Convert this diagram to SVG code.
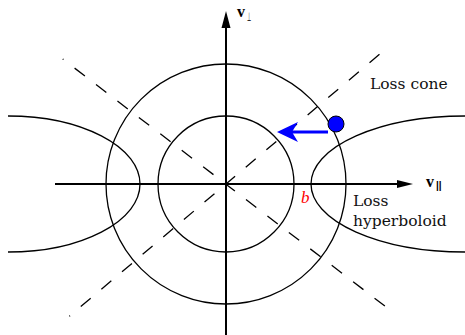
<svg xmlns="http://www.w3.org/2000/svg" width="465" height="335" viewBox="0 0 465 335">
<style>
.c{fill:none;stroke:#000;stroke-width:1.3}
.d{fill:none;stroke:#000;stroke-width:1.3;stroke-dasharray:13 14;stroke-dashoffset:12}
.ax{stroke:#000;stroke-width:2}
.t{font-family:"DejaVu Serif",serif;font-size:15.5px;fill:#111}
</style>
<rect width="465" height="335" fill="#fff"/>
<g id="connectors">
<line class="d" x1="62.7" y1="59" x2="390" y2="310"/>
<line class="d" x1="69.3" y1="316.3" x2="384" y2="50.5"/>
<line class="ax" x1="55" y1="184" x2="400" y2="184"/>
<polygon points="413,184 397,180 397,188" fill="#000"/>
<line class="ax" x1="226" y1="335" x2="226" y2="26"/>
<polygon points="226,11 221.5,28 230.5,28" fill="#000"/>
</g>
<g id="big-circle"><circle class="c" cx="226" cy="184" r="120"/></g>
<g id="small-circle"><circle class="c" cx="226" cy="184" r="68"/></g>
<g id="left-hyperbola"><path class="c" d="M8,116 A132,68 0 0 1 8,252"/></g>
<g id="right-hyperbola"><path class="c" d="M465,116 A154,68 0 0 0 465,252"/></g>
<g id="particle">
<line x1="328" y1="132" x2="288" y2="132" stroke="#0000ff" stroke-width="3"/>
<polygon points="277,132 298,122 292,132 298,142" fill="#0000ff"/>
<circle cx="336" cy="124" r="8" fill="#0000ff" stroke="#000" stroke-width="1"/>
</g>
<g id="labels">
<text x="237" y="17" font-family="Liberation Serif,serif" font-weight="bold" font-size="16">v</text>
<text x="247" y="21" font-family="DejaVu Sans,sans-serif" font-size="12" transform="translate(247 0) scale(0.4 1) translate(-247 0)">⊥</text>
<text x="426" y="187" font-family="Liberation Serif,serif" font-weight="bold" font-size="16">v</text>
<text x="436" y="189" font-family="Liberation Sans,sans-serif" font-weight="bold" font-size="10">||</text>
<text class="t" x="370" y="89">Loss cone</text>
<text class="t" x="353" y="206">Loss</text>
<text class="t" x="353" y="226">hyperboloid</text>
<text x="301" y="203" font-family="Liberation Serif,serif" font-style="italic" font-size="17" fill="#ff0000">b</text>
</g>
</svg>
